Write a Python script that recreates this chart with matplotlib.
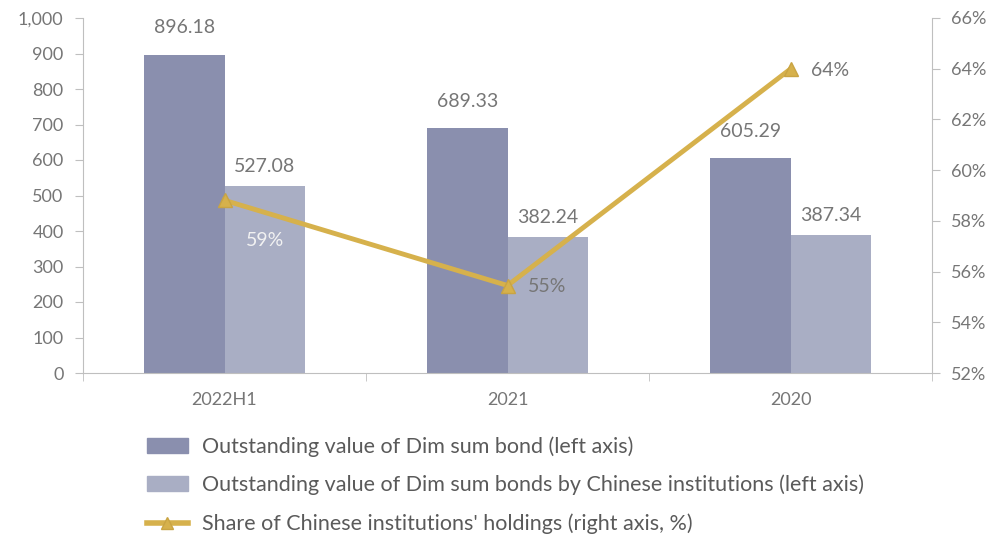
import matplotlib
matplotlib.use("Agg")
import matplotlib.pyplot as plt
from matplotlib.patches import Patch
from matplotlib.lines import Line2D
import numpy as np

categories = ["2022H1", "2021", "2020"]
total_value = [896.18, 689.33, 605.29]
chinese_value = [527.08, 382.24, 387.34]
share_pct = [58.81, 55.45, 63.99]
share_labels = ["59%", "55%", "64%"]
left_ticks = [0, 100, 200, 300, 400, 500, 600, 700, 800, 900, 1000]
right_ticks = [52, 54, 56, 58, 60, 62, 64, 66]

plt.rcParams['font.family'] = ['Lato', 'DejaVu Sans']
txt = '#767676'
axc = '#bfbfbf'
c_dark = '#8a8fae'
c_light = '#a9aec4'
c_line = '#d6b14c'

fig = plt.figure(figsize=(9.9, 5.36), dpi=100)
ax = fig.add_axes([83/990, 1-373/536, (932-83)/990, (373-18)/536])
ax2 = ax.twinx()

x = np.arange(len(categories))
w = 0.285
ax.bar(x - w/2, total_value, w, color=c_dark, zorder=2)
ax.bar(x + w/2, chinese_value, w, color=c_light, zorder=2)
for xi, v in zip(x, total_value):
    ax.text(xi - w/2, v + 76, f"{v:.2f}", ha='center', va='center', color=txt, fontsize=14)
for xi, v in zip(x, chinese_value):
    ax.text(xi + w/2, v + 55, f"{v:.2f}", ha='center', va='center', color=txt, fontsize=14)

ax.set_xlim(-0.5, 2.5)
ax.set_ylim(0, 1000)
ax.set_yticks(left_ticks)
ax.set_yticklabels([f"{t:,}" for t in left_ticks])
ax.set_xticks(x)
ax.set_xticklabels(categories)
ax.set_xticks([-0.5, 0.5, 1.5, 2.5], minor=True)
ax.tick_params(axis='x', which='major', length=0, pad=14, labelsize=13, labelcolor=txt)
ax.tick_params(axis='x', which='minor', length=6, color=axc, direction='out')
ax.tick_params(axis='y', length=6, color=axc, labelsize=13, labelcolor=txt, pad=8)

ax2.plot(x, share_pct, color=c_line, lw=3.5, marker='^', ms=10,
         markerfacecolor=c_line, markeredgecolor='#c9a443', zorder=5)
ax2.set_ylim(52, 66)
ax2.set_yticks(right_ticks)
ax2.set_yticklabels([f"{t}%" for t in right_ticks])
ax2.tick_params(axis='y', length=6, color=axc, labelsize=13, labelcolor=txt, pad=8)

# share labels
ax2.text(x[0] + w/2, share_pct[0] - 1.6, share_labels[0], ha='center', va='center',
         color='#f2f2f2', fontsize=14, zorder=6)
ax2.text(x[1] + 0.14, share_pct[1] - 0.05, share_labels[1], ha='center', va='center',
         color=txt, fontsize=14, zorder=6)
ax2.text(x[2] + 0.14, share_pct[2] - 0.05, share_labels[2], ha='center', va='center',
         color=txt, fontsize=14, zorder=6)

for a in (ax, ax2):
    a.spines['top'].set_visible(False)
    a.spines['left'].set_color(axc)
    a.spines['right'].set_color(axc)
    a.spines['bottom'].set_color(axc)
ax.spines['right'].set_visible(False)
ax2.spines['left'].set_visible(False)
ax2.spines['bottom'].set_visible(False)

handles = [
    Patch(color=c_dark, label="Outstanding value of Dim sum bond (left axis)"),
    Patch(color=c_light, label="Outstanding value of Dim sum bonds by Chinese institutions (left axis)"),
    Line2D([0], [0], color=c_line, lw=4, marker='^', ms=8, markeredgecolor='#c9a443',
           label="Share of Chinese institutions' holdings (right axis, %)"),
]
leg = fig.legend(handles=handles, loc='upper left', bbox_to_anchor=(147/990, 1-436/536),
                 frameon=False, fontsize=15.5, labelcolor='#5a5a5a', handlelength=1.9,
                 handleheight=0.7, labelspacing=0.85, borderaxespad=0, borderpad=0,
                 handletextpad=0.65)

fig.savefig("out.png", dpi=100, facecolor='white')
